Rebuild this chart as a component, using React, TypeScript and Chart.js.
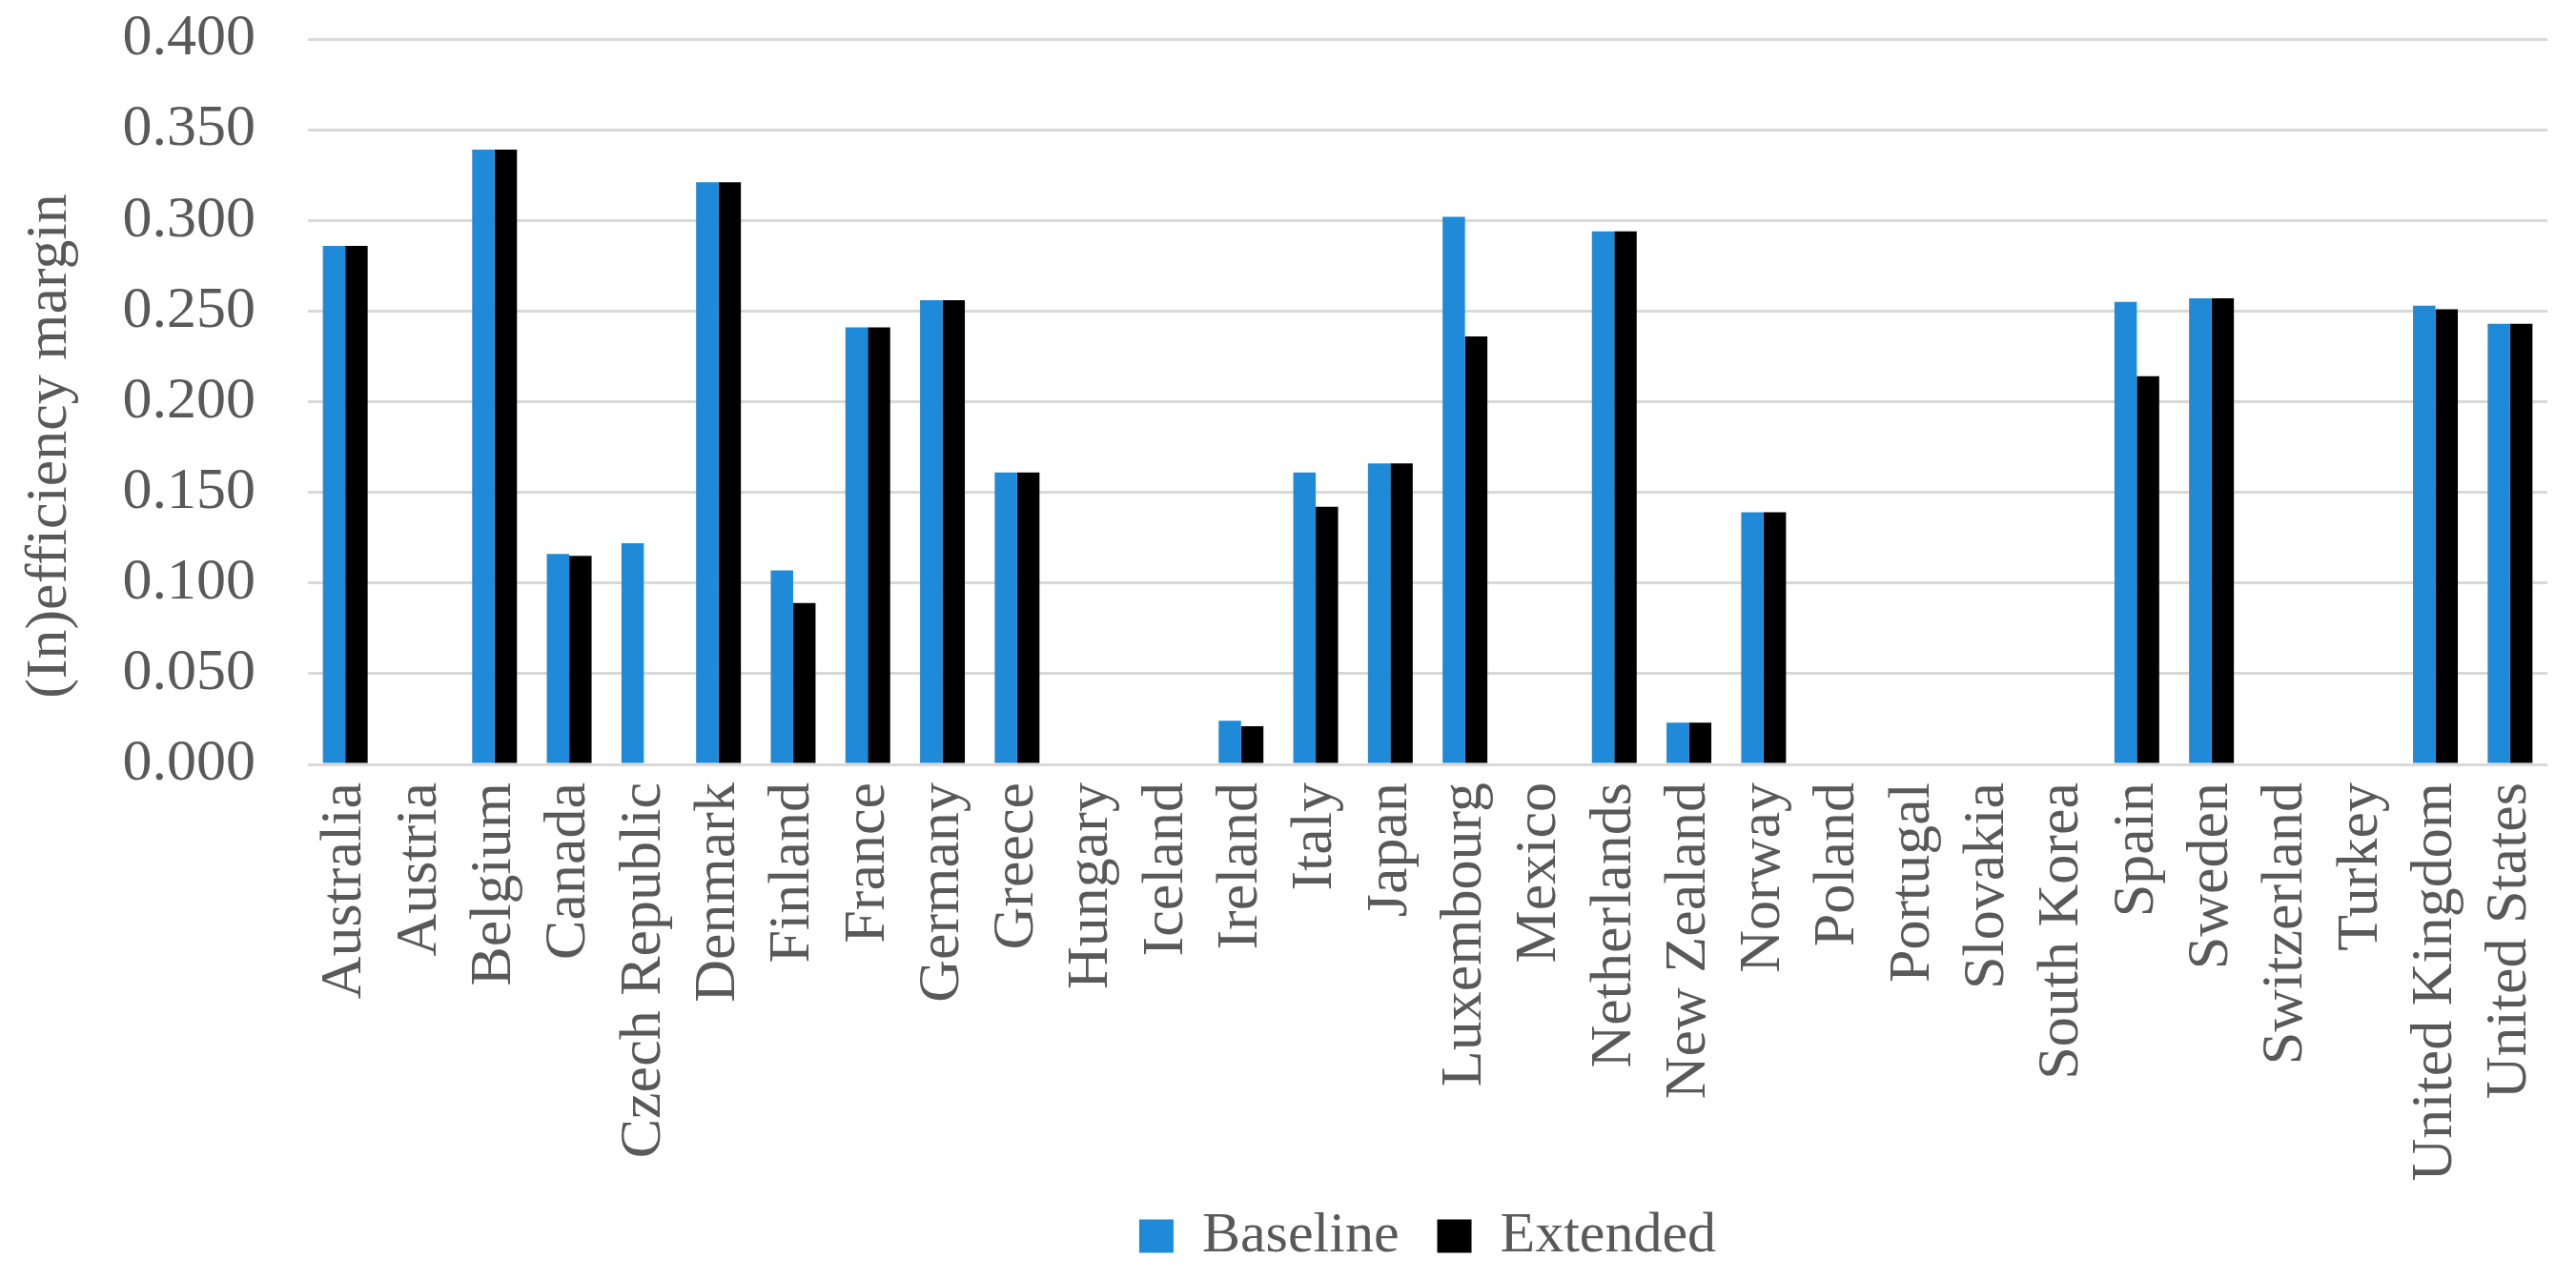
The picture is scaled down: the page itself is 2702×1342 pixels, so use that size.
import React, { useEffect, useRef } from "react";
import { Chart, registerables } from "chart.js";

Chart.register(...registerables);

const categories = [
  "Australia", "Austria", "Belgium", "Canada", "Czech Republic", "Denmark", "Finland",
  "France", "Germany", "Greece", "Hungary", "Iceland", "Ireland", "Italy", "Japan",
  "Luxembourg", "Mexico", "Netherlands", "New Zealand", "Norway", "Poland", "Portugal",
  "Slovakia", "South Korea", "Spain", "Sweden", "Switzerland", "Turkey",
  "United Kingdom", "United States",
];

const baseline = [
  0.286, null, 0.339, 0.116, 0.122, 0.321, 0.107,
  0.241, 0.256, 0.161, null, null, 0.024, 0.161, 0.166,
  0.302, null, 0.294, 0.023, 0.139, null, null,
  null, null, 0.255, 0.257, null, null,
  0.253, 0.243,
];

const extended = [
  0.286, null, 0.339, 0.115, null, 0.321, 0.089,
  0.241, 0.256, 0.161, null, null, 0.021, 0.142, 0.166,
  0.236, null, 0.294, 0.023, 0.139, null, null,
  null, null, 0.214, 0.257, null, null,
  0.251, 0.243,
];

const seriesNames = ["Baseline", "Extended"];
const seriesColors = ["#1f8ad8", "#000000"];
const yTicks = [0, 0.05, 0.1, 0.15, 0.2, 0.25, 0.3, 0.35, 0.4];
const yTitle = "(In)efficiency margin";

const FONT = "'Liberation Serif', serif";
const TEXT = "#595959";

export default function App() {
  const ref = useRef<HTMLCanvasElement | null>(null);

  useEffect(() => {
    if (!ref.current) return;
    const chart = new Chart(ref.current, {
      type: "bar",
      data: {
        labels: categories,
        datasets: [
          { label: seriesNames[0], data: baseline as any, backgroundColor: seriesColors[0], borderWidth: 0, categoryPercentage: 0.6, barPercentage: 1.0 },
          { label: seriesNames[1], data: extended as any, backgroundColor: seriesColors[1], borderWidth: 0, categoryPercentage: 0.6, barPercentage: 1.0 },
        ],
      },
      options: {
        animation: false,
        responsive: false,
        maintainAspectRatio: false,
        layout: { padding: { left: 0, top: 41, right: 30, bottom: 5 } },
        plugins: {
          tooltip: { enabled: false },
          legend: {
            position: "bottom",
            fullSize: false,
            labels: {
              boxWidth: 36,
              boxHeight: 35,
              padding: 40,
              color: TEXT,
              font: { family: FONT, size: 60 },
            },
          },
        },
        scales: {
          x: {
            grid: { display: false, drawTicks: false },
            border: { display: false },
            ticks: {
              autoSkip: false,
              maxRotation: 90,
              minRotation: 90,
              padding: 19,
              color: TEXT,
              font: { family: FONT, size: 62 },
            },
            afterFit: (scale: any) => {
              scale.height = 425;
              scale.paddingLeft = 0;
              scale.paddingRight = 0;
              scale._computeLabelArea = () => undefined;
            },
          },
          y: {
            min: 0,
            max: 0.4,
            afterBuildTicks: (scale: any) => { scale.ticks = yTicks.map((v) => ({ value: v })); },
            grid: { color: "#d9d9d9", lineWidth: 3, drawTicks: false },
            border: { display: false },
            ticks: {
              padding: 55,
              color: TEXT,
              font: { family: FONT, size: 62 },
              callback: (v: any) => Number(v).toFixed(3),
            },
            title: {
              display: true,
              text: yTitle + "      ",
              color: TEXT,
              font: { family: FONT, size: 62 },
              padding: { top: 16, bottom: 0 },
            },
            afterFit: (scale: any) => {
              scale.width = 323;
              scale.paddingTop = 0;
              scale.paddingBottom = 0;
            },
          },
        },
      },
    });
    return () => chart.destroy();
  }, []);

  return (
    <div style={{ position: "fixed", left: 0, top: 0, width: 2702, height: 1342, background: "#fff" }}>
      <canvas ref={ref} width={2702} height={1342} style={{ width: 2702, height: 1342, display: "block" }} />
    </div>
  );
}
